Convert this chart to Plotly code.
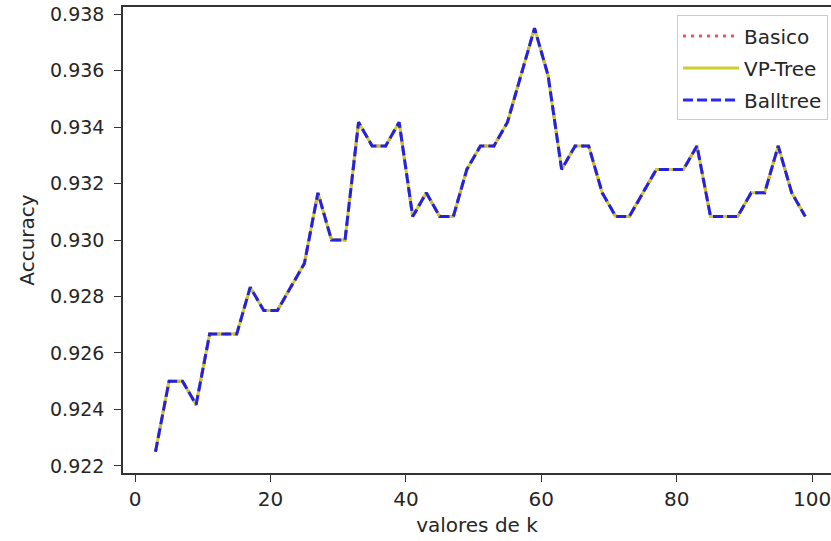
import plotly.graph_objects as go

k_values = [3, 5, 7, 9, 11, 13, 15, 17, 19, 21, 23, 25, 27, 29, 31, 33, 35, 37, 39, 41,
            43, 45, 47, 49, 51, 53, 55, 57, 59, 61, 63, 65, 67, 69, 71, 73, 75, 77, 79, 81,
            83, 85, 87, 89, 91, 93, 95, 97, 99]

acc_basico = [0.9225, 0.925, 0.925, 0.92417, 0.92667, 0.92667, 0.92667, 0.92833, 0.9275, 0.9275,
              0.92833, 0.92917, 0.93167, 0.93, 0.93, 0.93417, 0.93333, 0.93333, 0.93417, 0.93083,
              0.93167, 0.93083, 0.93083, 0.9325, 0.93333, 0.93333, 0.93417, 0.93583, 0.9375, 0.93583,
              0.9325, 0.93333, 0.93333, 0.93167, 0.93083, 0.93083, 0.93167, 0.9325, 0.9325, 0.9325,
              0.93333, 0.93083, 0.93083, 0.93083, 0.93167, 0.93167, 0.93333, 0.93167, 0.93083]
acc_vptree = list(acc_basico)
acc_balltree = list(acc_basico)

series_names = ["Basico", "VP-Tree", "Balltree"]

x_ticks = [0, 20, 40, 60, 80, 100]
y_ticks = [0.922, 0.924, 0.926, 0.928, 0.930, 0.932, 0.934, 0.936, 0.938]

font_family = "DejaVu Sans"
text_color = "#262626"

fig = go.Figure()
fig.add_trace(go.Scatter(x=k_values, y=acc_basico, mode="lines", name=series_names[0],
                         legendgroup="a",
                         line=dict(color="rgba(255,40,40,0.8)", width=3, dash="3px,5px")))
fig.add_trace(go.Scatter(x=k_values, y=acc_vptree, mode="lines", name=series_names[1],
                         legendgroup="b",
                         line=dict(color="rgba(200,200,30,0.9)", width=3, dash="solid")))
fig.add_trace(go.Scatter(x=k_values, y=acc_balltree, mode="lines", name=series_names[2],
                         legendgroup="c",
                         line=dict(color="rgba(10,10,255,0.88)", width=3, dash="10px,4px")))

fig.update_layout(
    width=831, height=541,
    margin=dict(l=123, r=0, t=7, b=68),
    paper_bgcolor="white", plot_bgcolor="white",
    font=dict(family=font_family, size=20, color=text_color),
    showlegend=True,
    legend=dict(
        x=0.9958, y=0.982, xanchor="right", yanchor="top",
        bgcolor="rgba(255,255,255,0.8)", bordercolor="#cccccc", borderwidth=1,
        font=dict(family=font_family, size=20, color=text_color),
        traceorder="grouped", tracegroupgap=3, itemwidth=56,
    ),
    xaxis=dict(
        range=[-1.8, 102.8], tickvals=x_ticks, ticktext=[str(v) for v in x_ticks],
        showgrid=False, zeroline=False, showline=True, linecolor="#333333", linewidth=1.5,
        mirror=True, ticks="outside", ticklen=7, tickwidth=1.2, tickcolor="#333333",
        tickfont=dict(size=20, color=text_color), ticklabeloverflow="allow",
        title=dict(text="valores de k", standoff=8, font=dict(size=20, color=text_color)),
        automargin=False,
    ),
    yaxis=dict(
        range=[0.92175, 0.93825], tickvals=y_ticks, ticktext=[f"{v:.3f}" for v in y_ticks],
        showgrid=False, zeroline=False, showline=True, linecolor="#333333", linewidth=1.5,
        mirror=False, ticks="outside", ticklen=7, tickwidth=1.2, tickcolor="#333333",
        tickfont=dict(size=19, color=text_color), ticklabelstandoff=6,
        title=dict(text="Accuracy", standoff=10, font=dict(size=20, color=text_color)),
        automargin=False,
    ),
)

fig.write_html("out.html")
